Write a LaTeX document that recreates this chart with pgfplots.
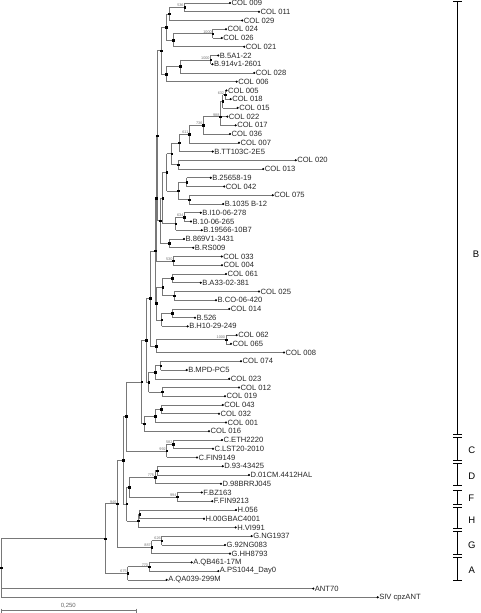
\documentclass[border=0pt]{standalone}
\usepackage{pgfplots}
\pgfplotsset{compat=1.18}
\usepackage{pgfplotstable}
\usepackage{fontspec}
\setmainfont{Liberation Sans}
\definecolor{br}{RGB}{120,120,120}

\pgfplotstableread[col sep=comma]{
x,y,px,name
230,0,184.5,COL 009
259,1,184.5,COL 011
242.3,2,169.3,COL 029
226,3,212.7,COL 024
221.7,4,212.7,COL 026
244.3,5,173.3,COL 021
218.3,6,210.5,B.5A1-22
212.5,7,210.5,B.914v1-2601
254.3,8,180,COL 028
236.7,9,166,COL 006
226.5,10,225,COL 005
230.7,11,225,COL 018
237.7,12,222.7,COL 015
227.3,13,220.3,COL 022
235.7,14,220.3,COL 017
230,15,203.3,COL 036
239,16,189.3,COL 007
212.7,17,179.3,B.TT103C-2E5
295.7,18,178.3,COL 020
263.3,19,178.3,COL 013
210.7,20,186.7,B.25658-19
224.3,21,186.7,COL 042
272.7,22,189,COL 075
223.3,23,189,B.1035 B-12
200.7,24,184.3,B.I10-06-278
191,25,184.3,B.10-06-265
201.7,26,175.7,B.19566-10B7
184,27,169.3,B.869V1-3431
193.3,28,169.3,B.RS009
221.7,29,173.3,COL 033
222,30,173.3,COL 004
226,31,172.3,COL 061
200.7,32,172.3,B.A33-02-381
259,33,174.3,COL 025
216,34,174.3,B.CO-06-420
229.3,35,172.3,COL 014
195,36,172.3,B.526
187.7,37,161.7,B.H10-29-249
236.7,38,226,COL 062
231,39,226,COL 065
284,40,156,COL 008
241,41,160.7,COL 074
186.7,42,160.7,B.MPD-PC5
229.3,43,155,COL 023
239,44,162.3,COL 012
225,45,162.3,COL 019
222.7,46,161,COL 043
219,47,161,COL 032
226,48,155.3,COL 001
209,49,144,COL 016
222,50,173.3,C.ETH2220
213,51,173.3,C.LST20-2010
197,52,166.7,C.FIN9149
222.7,53,157.3,D.93-43425
249,54,157.3,D.01CM.4412HAL
221,55,155,D.98BRRJ045
201.7,56,177.3,F.BZ163
212.3,57,177.3,F.FIN9213
236,58,139.7,H.056
204,59,139.7,H.00GBAC4001
235.7,60,138.3,H.VI991
251.7,61,161.7,G.NG1937
225,62,161.7,G.92NG083
230,63,151.7,G.HH8793
191.7,64,149,A.QB461-17M
218.3,65,149,A.PS1044\_Day0
166.7,66,127.7,A.QA039-299M
313.3,67,1,ANT70
377.7,68,1,SIV cpzANT
}\leaves

\pgfplotstableread[col sep=comma]{
x,y,y1,y2,px,lab
184.5,0.5,0,1,169.3,536
169.3,1.25,0.5,2,166,
212.7,3.5,3,4,173.3,1000
173.3,4.25,3.5,5,166,
166,2.75,1.25,4.25,161,
210.5,6.5,6,7,180,1000
180,7.25,6.5,8,166,
166,8.125,7.25,9,161,
161,5.4375,2.75,8.125,157.3,
225,10.5,10,11,222.7,632
222.7,11.25,10.5,12,220.3,
220.3,13,11.25,14,203.3,988
203.3,14,13,15,189.3,736
189.3,15,14,16,179.3,611
179.3,16,15,17,171.7,
178.3,18.5,18,19,171.7,
171.7,17.25,16,18.5,166.7,
186.7,20.5,20,21,178.3,
189,22.5,22,23,178.3,
178.3,21.5,20.5,22.5,166.7,
166.7,19.375,17.25,21.5,162.7,
184.3,24.5,24,25,175.7,634
175.7,25.25,24.5,26,162.7,
162.7,22.3125,19.375,25.25,160,
169.3,27.5,27,28,160,
160,24.906,22.3125,27.5,157.3,
157.3,15.172,5.4375,24.906,156,
173.3,29.5,29,30,156,530
156,22.336,15.172,29.5,155,
172.3,31.5,31,32,162.7,
174.3,33.5,33,34,162.7,
162.7,32.5,31.5,33.5,156.3,
172.3,35.5,35,36,161.7,
161.7,36.25,35.5,37,156.3,
156.3,34.375,32.5,36.25,155,
155,28.356,22.336,34.375,150.3,
226,38.5,38,39,156,1000
156,39.25,38.5,40,150.3,
150.3,33.803,28.356,39.25,146,
160.7,41.5,41,42,155,
155,42.25,41.5,43,148.7,
162.3,44.5,44,45,148.7,
148.7,43.375,42.25,44.5,146,
146,38.589,33.803,43.375,141.7,
161,46.5,46,47,155.3,
155.3,47.25,46.5,48,144,
144,48.125,47.25,49,141.7,
141.7,43.357,38.589,48.125,126,
173.3,50.5,50,51,166.7,582
166.7,51.25,50.5,52,126,992
126,47.304,43.357,51.25,123.3,
157.3,53.5,53,54,155,
155,54.25,53.5,55,129.3,775
177.3,56.5,56,57,129.3,994
129.3,55.375,54.25,56.5,126.7,
139.7,58.5,58,59,138.3,
138.3,59.25,58.5,60,126.7,
126.7,57.313,55.375,59.25,123.3,
123.3,52.308,47.304,57.313,117.3,
161.7,61.5,61,62,151.7,626
151.7,62.25,61.5,63,117.3,887
117.3,57.279,52.308,62.25,105,946
149,64.5,64,65,127.7,770
127.7,65.25,64.5,66,105,675
105,61.265,57.279,65.25,1,
1,64.632,61.265,68,1,
}\nodes

% clade bars: top of each clade bar and its length
\pgfplotstableread{
x y v
457.5 -0.19 49.55
457.5 49.70 2.67
457.5 52.67 2.56
457.5 55.72 1.60
457.5 57.70 2.40
457.5 60.41 2.72
457.5 63.43 2.67
}\cladebars

% end caps of the clade bars
\pgfplotstableread{
x y u
453.2 -0.19 8.6
453.2 49.36 8.6
453.2 49.70 8.6
453.2 52.37 8.6
453.2 52.67 8.6
453.2 55.23 8.6
453.2 55.72 8.6
453.2 57.32 8.6
453.2 57.70 8.6
453.2 60.10 8.6
453.2 60.41 8.6
453.2 63.13 8.6
453.2 63.43 8.6
453.2 66.10 8.6
}\cladecaps

\pgfplotstableread{
x y u v
1 69.53 135 0
1 69.30 0 0.46
136 69.30 0 0.46
}\scalebar

\begin{document}
\begin{tikzpicture}
\begin{axis}[
  width=480pt, height=613pt, scale only axis,
  xmin=0, xmax=480, ymin=-0.343, ymax=69.794,
  y dir=reverse, hide axis, clip=false,
]
% horizontal branches to leaves
\addplot[br, line width=0.6pt, no markers,
  quiver={u=\thisrow{x}-\thisrow{px}, v=0}]
  table[x=px, y=y] {\leaves};
% horizontal branches to internal nodes
\addplot[br, line width=0.6pt, no markers,
  quiver={u=\thisrow{x}-\thisrow{px}, v=0}]
  table[x=px, y=y] {\nodes};
% vertical connectors
\addplot[br, line width=0.6pt, no markers,
  quiver={u=0, v=\thisrow{y2}-\thisrow{y1}}]
  table[x=x, y=y1] {\nodes};
% internal node dots and bootstrap values
\addplot[only marks, mark=square*, mark size=0.75pt, black,
  nodes near coords, point meta=explicit symbolic,
  nodes near coords style={anchor=south east, inner sep=0.3pt, xshift=-0.4pt,
    font=\fontsize{3.8}{4}\selectfont, text=black!55}]
  table[x=x, y=y, meta=lab] {\nodes};
% leaf dots and names
\addplot[only marks, mark=*, mark size=0.85pt, black,
  nodes near coords, point meta=explicit symbolic,
  nodes near coords style={anchor=west, inner sep=0.8pt, xshift=0.6pt,
    font=\fontsize{7.6}{8}\selectfont, text=black!85}]
  table[x=x, y=y, meta=name] {\leaves};
% clade bars
\addplot[black, line width=1.1pt, line cap=butt, no markers,
  quiver={u=0, v=\thisrow{v}}]
  table[x=x, y=y] {\cladebars};
\addplot[black, line width=0.55pt, line cap=butt, no markers,
  quiver={u=\thisrow{u}, v=0}]
  table[x=x, y=y] {\cladecaps};
% scale bar
\addplot[br, line width=0.6pt, no markers,
  quiver={u=\thisrow{u}, v=\thisrow{v}}]
  table[x=x, y=y] {\scalebar};
\node[font=\fontsize{6}{7}\selectfont, text=black!60] at (axis cs:68.3,68.99) {0,250};
\node[font=\fontsize{9.5}{10}\selectfont] at (axis cs:476,28.72) {B};
\node[font=\fontsize{9.5}{10}\selectfont] at (axis cs:471.7,51.14) {C};
\node[font=\fontsize{9.5}{10}\selectfont] at (axis cs:471.7,54.20) {D};
\node[font=\fontsize{9.5}{10}\selectfont] at (axis cs:471.2,56.67) {F};
\node[font=\fontsize{9.5}{10}\selectfont] at (axis cs:471.7,59.15) {H};
\node[font=\fontsize{9.5}{10}\selectfont] at (axis cs:471.7,62.01) {G};
\node[font=\fontsize{9.5}{10}\selectfont] at (axis cs:471.7,64.95) {A};
\end{axis}
\pgfresetboundingbox
\path[use as bounding box] (current axis.south west) rectangle (current axis.north east);
\end{tikzpicture}
\end{document}
